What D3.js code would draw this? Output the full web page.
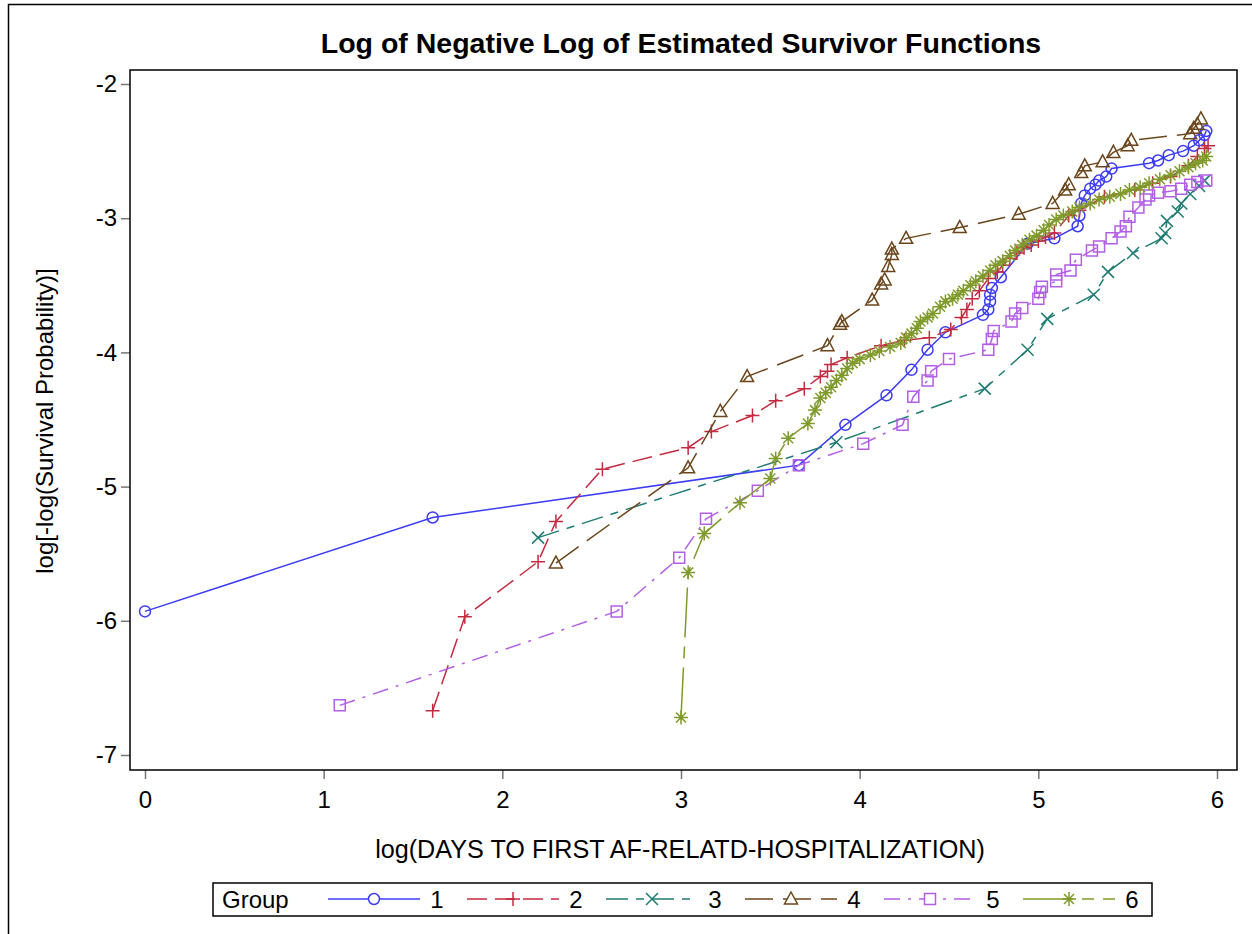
<!DOCTYPE html>
<html>
<head>
<meta charset="utf-8">
<script src="https://cdn.jsdelivr.net/npm/d3@7"></script>
<style>
  body { margin: 0; background: #fff; }
  svg text { font-family: "Liberation Sans", Arial, sans-serif; fill: #000; }
</style>
</head>
<body>
<svg id="chart" width="1252" height="934"></svg>
<script>
// ---- data: [log(days), log(-log(S))] ----
const groups = ['1', '2', '3', '4', '5', '6'];
const xTicks = [0, 1, 2, 3, 4, 5, 6];
const yTicks = [-2, -3, -4, -5, -6, -7];

const group1 = [[0,-5.93],[1.61,-5.23],[3.66,-4.84],[3.92,-4.54],[4.15,-4.32],[4.29,-4.13],[4.38,-3.98],[4.48,-3.85],
  [4.69,-3.72],[4.72,-3.68],[4.73,-3.62],[4.73,-3.57],[4.74,-3.52],[4.79,-3.44],[4.94,-3.19],[5.09,-3.15],[5.22,-3.06],
  [5.23,-2.98],[5.24,-2.89],[5.26,-2.83],[5.29,-2.78],[5.32,-2.75],[5.34,-2.72],[5.38,-2.69],[5.41,-2.63],[5.62,-2.59],
  [5.67,-2.57],[5.73,-2.53],[5.81,-2.50],[5.87,-2.46],[5.90,-2.42],[5.93,-2.38],[5.94,-2.35]];

const group2 = [[1.61,-6.67],[1.79,-5.97],[2.20,-5.56],[2.30,-5.26],[2.56,-4.87],[3.04,-4.71],[3.17,-4.59],[3.40,-4.47],
  [3.53,-4.36],[3.69,-4.27],[3.78,-4.18],[3.82,-4.14],[3.84,-4.09],[3.93,-4.04],[4.12,-3.95],[4.25,-3.91],[4.39,-3.89],
  [4.51,-3.83],[4.57,-3.74],[4.60,-3.68],[4.63,-3.60],[4.67,-3.54],[4.72,-3.45],[4.77,-3.40],[4.80,-3.35],[4.84,-3.30],
  [4.88,-3.26],[4.92,-3.22],[4.96,-3.20],[5.00,-3.17],[5.04,-3.14],[5.09,-3.11],[5.17,-2.98],[5.23,-2.94],[5.37,-2.84],
  [5.54,-2.79],[5.64,-2.74],[5.74,-2.69],[5.84,-2.61],[5.89,-2.54],[5.93,-2.48],[5.95,-2.46]];

const group3 = [[2.20,-5.38],[3.87,-4.67],[4.70,-4.27],[4.94,-3.98],[5.05,-3.75],[5.31,-3.57],[5.39,-3.40],[5.53,-3.26],
  [5.69,-3.15],[5.71,-3.11],[5.72,-3.02],[5.78,-2.95],[5.80,-2.89],[5.85,-2.82],[5.90,-2.76],[5.93,-2.72]];

const group4 = [[2.30,-5.57],[3.04,-4.86],[3.22,-4.44],[3.37,-4.18],[3.82,-3.95],[3.89,-3.79],[3.90,-3.77],[4.07,-3.61],
  [4.12,-3.49],[4.14,-3.46],[4.16,-3.36],[4.18,-3.27],[4.18,-3.23],[4.26,-3.15],[4.56,-3.07],[4.89,-2.97],[5.08,-2.89],
  [5.15,-2.79],[5.17,-2.75],[5.24,-2.66],[5.26,-2.61],[5.36,-2.58],[5.42,-2.51],[5.50,-2.46],[5.52,-2.42],[5.85,-2.37],
  [5.87,-2.33],[5.89,-2.30],[5.91,-2.26]];

const group5 = [[1.09,-6.63],[2.64,-5.93],[2.99,-5.53],[3.14,-5.24],[3.43,-5.03],[3.66,-4.84],[4.02,-4.68],[4.24,-4.54],
  [4.30,-4.33],[4.38,-4.21],[4.40,-4.14],[4.50,-4.05],[4.72,-3.98],[4.74,-3.90],[4.75,-3.84],[4.85,-3.77],[4.87,-3.71],
  [4.91,-3.67],[5.00,-3.60],[5.01,-3.55],[5.02,-3.51],[5.10,-3.47],[5.10,-3.42],[5.18,-3.39],[5.21,-3.31],[5.30,-3.24],
  [5.34,-3.21],[5.41,-3.15],[5.46,-3.10],[5.49,-3.06],[5.51,-2.99],[5.56,-2.92],[5.60,-2.86],[5.62,-2.83],[5.67,-2.81],
  [5.74,-2.80],[5.80,-2.78],[5.85,-2.75],[5.89,-2.73],[5.94,-2.72]];

const group6 = [[3.00,-6.72],[3.04,-5.64],[3.13,-5.35],[3.33,-5.12],[3.50,-4.94],[3.53,-4.79],[3.60,-4.64],[3.71,-4.53],
  [3.75,-4.43],[3.78,-4.34],[3.81,-4.30],[3.84,-4.26],[3.87,-4.21],[3.90,-4.17],[3.93,-4.12],[3.96,-4.08],[4.00,-4.05],
  [4.06,-4.02],[4.11,-3.99],[4.17,-3.96],[4.23,-3.93],[4.26,-3.89],[4.29,-3.86],[4.32,-3.82],[4.34,-3.77],[4.38,-3.74],
  [4.41,-3.71],[4.45,-3.66],[4.48,-3.62],[4.52,-3.60],[4.55,-3.57],[4.58,-3.54],[4.62,-3.50],[4.65,-3.47],[4.69,-3.43],
  [4.73,-3.39],[4.76,-3.35],[4.80,-3.32],[4.84,-3.28],[4.87,-3.24],[4.91,-3.20],[4.95,-3.16],[4.99,-3.13],[5.03,-3.09],
  [5.06,-3.05],[5.10,-3.01],[5.14,-2.98],[5.19,-2.95],[5.23,-2.92],[5.29,-2.89],[5.34,-2.86],[5.40,-2.84],[5.46,-2.82],
  [5.51,-2.79],[5.57,-2.77],[5.62,-2.74],[5.68,-2.71],[5.74,-2.68],[5.79,-2.65],[5.84,-2.62],[5.88,-2.59],[5.92,-2.57],
  [5.94,-2.54]];

const seriesData = [group1, group2, group3, group4, group5, group6];

// ---- styles ----
const colors = ['#3c3cf5', '#c42a40', '#1f7c72', '#6b461c', '#b25fe6', '#7f9a2a'];
const dashes = [null, '20,8', '22,8,8,8', '28,10', '16,8,3,8', '50,9,12,9'];
const markers = ['circle', 'plus', 'times', 'triangle', 'square', 'asterisk'];

// marker path builders (open symbols)
function markerPath(type) {
  switch (type) {
    case 'circle': return 'M5.5,0A5.5,5.5,0,1,1,-5.5,0A5.5,5.5,0,1,1,5.5,0Z';
    case 'plus': return 'M-7,0H7M0,-7V7';
    case 'times': return 'M-6,-6L6,6M-6,6L6,-6';
    case 'triangle': return 'M0,-7L6.5,5H-6.5Z';
    case 'square': return 'M-5.5,-5.5H5.5V5.5H-5.5Z';
    case 'asterisk': return 'M-7,0H7M0,-7V7M-5,-5L5,5M-5,5L5,-5';
  }
}

const frame = { left: 130, top: 70, right: 1237, bottom: 770 };

const svg = d3.select('#chart');

// outer border
svg.append('rect')
  .attr('x', 8.5).attr('y', 4.5)
  .attr('width', 1260).attr('height', 960)
  .attr('fill', 'none').attr('stroke', '#000').attr('stroke-width', 1.5);

const x = d3.scaleLinear().domain([0, 6]).range([145, 1217]);
const y = d3.scaleLinear().domain([-7, -2]).range([755, 84]);

// title
svg.append('text')
  .attr('x', 681).attr('y', 53)
  .attr('text-anchor', 'middle')
  .style('font-size', '28.5px').style('font-weight', 'bold')
  .text('Log of Negative Log of Estimated Survivor Functions');

// axes (plain hyphen for negatives, like the original)
const yAxis = svg.append('g')
  .attr('transform', 'translate(' + frame.left + ',0)')
  .call(d3.axisLeft(y).tickValues(yTicks).tickSize(9).tickPadding(4).tickFormat(d => String(d)));
yAxis.select('.domain').remove();
yAxis.selectAll('line').attr('stroke', '#777').attr('stroke-width', 1.5);
yAxis.selectAll('text').style('font-size', '24px').attr('fill', '#000');

const xAxis = svg.append('g')
  .attr('transform', 'translate(0,' + frame.bottom + ')')
  .call(d3.axisBottom(x).tickValues(xTicks).tickSize(9).tickPadding(12).tickFormat(d => String(d)));
xAxis.select('.domain').remove();
xAxis.selectAll('line').attr('stroke', '#777').attr('stroke-width', 1.5);
xAxis.selectAll('text').style('font-size', '24px').attr('fill', '#000');

// axis labels
svg.append('text')
  .attr('x', 680).attr('y', 858)
  .attr('text-anchor', 'middle')
  .style('font-size', '25.2px')
  .text('log(DAYS TO FIRST AF-RELATD-HOSPITALIZATION)');

svg.append('text')
  .attr('transform', 'translate(53,421) rotate(-90)')
  .attr('text-anchor', 'middle')
  .style('font-size', '24px')
  .text('log[-log(Survival Probability)]');

// plot area
const plot = svg.append('g');
plot.append('clipPath').attr('id', 'clip')
  .append('rect')
  .attr('x', frame.left).attr('y', frame.top)
  .attr('width', frame.right - frame.left).attr('height', frame.bottom - frame.top);

const line = d3.line().x(d => x(d[0])).y(d => y(d[1]));

seriesData.forEach((data, i) => {
  const g = plot.append('g').attr('clip-path', 'url(#clip)');
  g.append('path')
    .datum(data)
    .attr('d', line)
    .attr('fill', 'none')
    .attr('stroke', colors[i])
    .attr('stroke-width', 1.5)
    .attr('stroke-dasharray', dashes[i]);
  g.selectAll('path.mk')
    .data(data)
    .enter()
    .append('path')
    .attr('class', 'mk')
    .attr('transform', d => 'translate(' + x(d[0]) + ',' + y(d[1]) + ')')
    .attr('d', markerPath(markers[i]))
    .attr('fill', 'none')
    .attr('stroke', colors[i])
    .attr('stroke-width', 1.5);
});

// frame
svg.append('rect')
  .attr('x', frame.left).attr('y', frame.top)
  .attr('width', frame.right - frame.left).attr('height', frame.bottom - frame.top)
  .attr('fill', 'none').attr('stroke', '#000').attr('stroke-width', 1.5);

// legend
const legend = svg.append('g');
legend.append('rect')
  .attr('x', 213).attr('y', 883).attr('width', 939).attr('height', 33)
  .attr('fill', '#fff').attr('stroke', '#000').attr('stroke-width', 1.5);
legend.append('text')
  .attr('x', 222).attr('y', 908)
  .style('font-size', '24px')
  .text('Group');

groups.forEach((name, i) => {
  const x0 = 328 + i * 139;
  const item = legend.append('g').attr('transform', 'translate(' + x0 + ',899)');
  item.append('path')
    .attr('d', 'M0,0H92')
    .attr('fill', 'none')
    .attr('stroke', colors[i])
    .attr('stroke-width', 1.5)
    .attr('stroke-dasharray', dashes[i]);
  item.append('path')
    .attr('transform', 'translate(46,0)')
    .attr('d', markerPath(markers[i]))
    .attr('fill', i === 0 || i === 3 || i === 4 ? '#fff' : 'none')
    .attr('stroke', colors[i])
    .attr('stroke-width', 1.5);
  item.append('text')
    .attr('x', 109).attr('y', 9)
    .attr('text-anchor', 'middle')
    .style('font-size', '24px')
    .text(name);
});
</script>
</body>
</html>
